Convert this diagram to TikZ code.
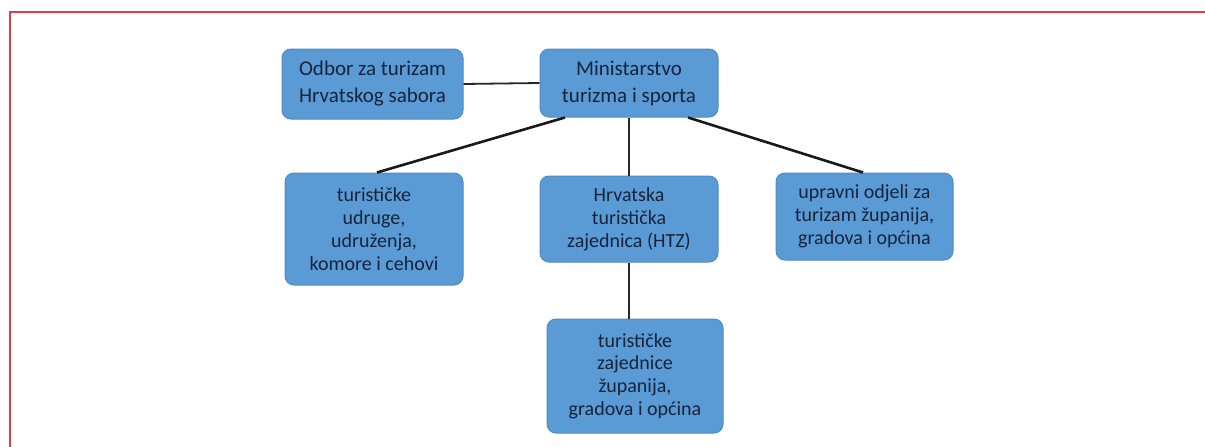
\documentclass[tikz,border=0pt]{standalone}
\usepackage{fontspec}
\setmainfont{Carlito}
\definecolor{boxfill}{HTML}{5B9BD5}
\definecolor{boxline}{HTML}{4F8BC4}
\definecolor{boxtext}{HTML}{16233A}
\definecolor{redframe}{RGB}{222,60,70}
\begin{document}
\begin{tikzpicture}[x=1pt,y=-1pt,
  orgbox/.style={draw=boxline, line width=1pt, fill=boxfill, rounded corners=9pt,
    align=center, text=boxtext, inner sep=0pt, font=\fontsize{20}{22.8}\selectfont},
  link/.style={draw=black!85, line width=1.8pt},
  thick link/.style={draw=black!90, line width=2.6pt},
  frameline/.style={draw=redframe, line width=2pt}]
\useasboundingbox (0,0) rectangle (1205,447);
\fill[white] (0,0) rectangle (1205,447);
% red frame
\draw[frameline] (9.5,447) -- (9.5,11.5) -- (1205,11.5);
% boxes
\node[orgbox, minimum width=181pt, minimum height=70pt, font=\fontsize{21}{27}\selectfont] (odb) at (372.5,84) {Odbor za turizam\\Hrvatskog sabora};
\node[orgbox, minimum width=178pt, minimum height=68pt, font=\fontsize{21}{27}\selectfont] (min) at (629,83) {Ministarstvo\\turizma i sporta};
\node[orgbox, minimum width=178pt, minimum height=112pt] (udr) at (374,229) {turističke\\udruge,\\udruženja,\\komore i cehovi};
\node[orgbox, minimum width=178pt, minimum height=86pt] (htz) at (629,219) {Hrvatska\\turistička\\zajednica (HTZ)};
\node[orgbox, minimum width=176pt, minimum height=114pt] (zaj) at (635,376) {turističke\\zajednice\\županija,\\gradova i općina};
\node[orgbox, minimum width=177pt, minimum height=87pt] (upr) at (864.5,216.5) {upravni odjeli za\\turizam županija,\\gradova i općina};
% connectors
\draw[link] (odb.east) -- (min.west);
\draw[link] (min.south) -- (htz.north);
\draw[link] (htz.south) -- (htz.south |- zaj.north);
\draw[thick link] ([xshift=-64pt]min.south) -- ([xshift=3pt]udr.north);
\draw[thick link] ([xshift=59pt]min.south) -- ([xshift=-1.5pt]upr.north);
\end{tikzpicture}
\end{document}
